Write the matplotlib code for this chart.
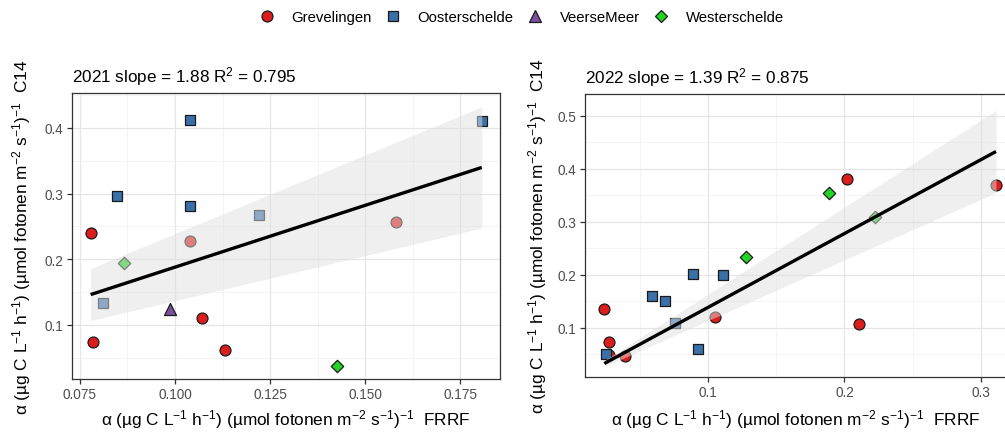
import matplotlib
matplotlib.use("Agg")
import matplotlib.pyplot as plt
from matplotlib.lines import Line2D
from matplotlib.ticker import FixedLocator
import numpy as np

plt.rcParams['font.family'] = ['Liberation Sans', 'DejaVu Sans']
plt.rcParams['mathtext.fontset'] = 'custom'
plt.rcParams['mathtext.rm'] = 'Liberation Sans'
plt.rcParams['mathtext.it'] = 'Liberation Sans:italic'
plt.rcParams['mathtext.bf'] = 'Liberation Sans:bold'

# ---------------- data ----------------
sites = ['Grevelingen', 'Oosterschelde', 'VeerseMeer', 'Westerschelde']
site_colors = ['#DD1C1C', '#3A70A8', '#7E4F9E', '#22D522']
site_markers = ['o', 's', '^', 'D']
site_sizes = [62, 52, 75, 40]

# 2021
site_2021 = ['Grevelingen'] * 6 + ['Oosterschelde'] * 6 + ['VeerseMeer'] + ['Westerschelde'] * 2
frrf_2021 = [0.0778, 0.0785, 0.1039, 0.1072, 0.1132, 0.1582,
             0.0847, 0.1039, 0.1040, 0.1221, 0.0811, 0.1807,
             0.0987,
             0.0866, 0.1427]
c14_2021 = [0.240, 0.074, 0.228, 0.110, 0.062, 0.257,
            0.297, 0.412, 0.281, 0.268, 0.133, 0.411,
            0.125,
            0.194, 0.037]
slope_2021 = 1.88
r2_2021 = 0.795
ribbon_lo_2021 = [0.1066, 0.2475]
ribbon_hi_2021 = [0.1860, 0.4320]

# 2022
site_2022 = ['Grevelingen'] * 8 + ['Oosterschelde'] * 7 + ['Westerschelde'] * 3
frrf_2022 = [0.0237, 0.0269, 0.0271, 0.0391, 0.1049, 0.2108, 0.2020, 0.3112,
             0.0250, 0.0585, 0.0682, 0.0890, 0.1106, 0.0755, 0.0922,
             0.1277, 0.1888, 0.2222]
c14_2022 = [0.136, 0.073, 0.049, 0.048, 0.121, 0.108, 0.380, 0.369,
            0.051, 0.160, 0.150, 0.201, 0.199, 0.110, 0.061,
            0.233, 0.355, 0.309]
slope_2022 = 1.39
r2_2022 = 0.875
ribbon_lo_2022 = [0.0270, 0.3550]
ribbon_hi_2022 = [0.0388, 0.5100]

x_ticks_2021 = [0.075, 0.100, 0.125, 0.150, 0.175]
x_ticklabels_2021 = ['0.075', '0.100', '0.125', '0.150', '0.175']
y_ticks_2021 = [0.1, 0.2, 0.3, 0.4]
x_ticks_2022 = [0.1, 0.2, 0.3]
y_ticks_2022 = [0.1, 0.2, 0.3, 0.4, 0.5]

xlabel = r'α (µg C L$^{-1}$ h$^{-1}$) (µmol fotonen m$^{-2}$ s$^{-1}$)$^{-1}$  FRRF'
ylabel = r'α (µg C L$^{-1}$ h$^{-1}$) (µmol fotonen m$^{-2}$ s$^{-1}$)$^{-1}$  C14'

# ---------------- figure ----------------
W, H = 1005, 435
fig = plt.figure(figsize=(W / 100, H / 100), dpi=100)
fig.patch.set_facecolor('white')


def px_axes(left, top, right, bottom):
    return fig.add_axes([left / W, 1 - bottom / H, (right - left) / W, (bottom - top) / H])


ax1 = px_axes(72, 94, 500, 380)
ax2 = px_axes(585, 95, 1016, 378)


def draw_panel(ax, site, xs, ys, slope, r2, lo, hi, year):
    xs = np.asarray(xs)
    ys = np.asarray(ys)
    site = np.asarray(site)
    for s, col, mk, sz in zip(sites, site_colors, site_markers, site_sizes):
        m = site == s
        if m.any():
            ax.scatter(xs[m], ys[m], s=sz, marker=mk, facecolor=col,
                       edgecolor='#1a1a1a', linewidth=0.9, zorder=3)
    xr = np.array([xs.min(), xs.max()])
    ax.fill_between(xr, lo, hi, color='#e0e0e0', alpha=0.5, linewidth=0, zorder=4)
    ax.plot(xr, slope * xr, color='black', linewidth=2.4, zorder=5,
            solid_capstyle='butt')
    ax.set_title(f'{year} slope = {slope:.2f} R$^2$ = {r2:.3f}', loc='left',
                 fontsize=12.3, color='black', pad=8)
    ax.set_xlabel(xlabel, fontsize=12.4, va='center')
    ax.set_ylabel(ylabel, fontsize=12.4, va='center')
    ax.grid(True, which='major', color='#e6e6e6', linewidth=0.9, zorder=0)
    ax.grid(True, which='minor', color='#f0f0f0', linewidth=0.5, zorder=0)
    ax.set_axisbelow(True)
    for sp in ax.spines.values():
        sp.set_color('#333333')
        sp.set_linewidth(0.9)
    ax.tick_params(which='major', length=3.5, width=0.9, color='#333333',
                   labelcolor='#4d4d4d', labelsize=9.8, pad=2.5)
    ax.tick_params(which='minor', length=0)


draw_panel(ax1, site_2021, frrf_2021, c14_2021, slope_2021, r2_2021,
           ribbon_lo_2021, ribbon_hi_2021, 2021)
draw_panel(ax2, site_2022, frrf_2022, c14_2022, slope_2022, r2_2022,
           ribbon_lo_2022, ribbon_hi_2022, 2022)

ax1.set_xlim(0.0729, 0.1855)
ax1.set_ylim(0.0178, 0.453)
ax1.set_xticks(x_ticks_2021)
ax1.set_xticklabels(x_ticklabels_2021)
ax1.set_yticks(y_ticks_2021)
ax1.xaxis.set_minor_locator(FixedLocator([0.0875, 0.1125, 0.1375, 0.1625]))
ax1.yaxis.set_minor_locator(FixedLocator([0.05, 0.15, 0.25, 0.35, 0.45]))
ax1.xaxis.set_label_coords(0.5, -0.14)
ax1.yaxis.set_label_coords(-0.117, 0.5)

ax2.set_xlim(0.0095, 0.3259)
ax2.set_ylim(0.0075, 0.541)
ax2.set_xticks(x_ticks_2022)
ax2.set_yticks(y_ticks_2022)
ax2.xaxis.set_minor_locator(FixedLocator([0.05, 0.15, 0.25]))
ax2.yaxis.set_minor_locator(FixedLocator([0.05, 0.15, 0.25, 0.35, 0.45]))
ax2.xaxis.set_label_coords(0.49, -0.148)
ax2.yaxis.set_label_coords(-0.109, 0.5)
ax2.spines['right'].set_visible(False)

handles = [Line2D([0], [0], linestyle='none', marker=mk, markersize=np.sqrt(sz),
                  markerfacecolor=col, markeredgecolor='#1a1a1a', markeredgewidth=0.9)
           for col, mk, sz in zip(site_colors, site_markers, site_sizes)]
fig.legend(handles, sites, loc='center', bbox_to_anchor=(0.519, 0.958), ncol=4,
           frameon=False, fontsize=10.7, handlelength=1.0, handletextpad=1.15,
           columnspacing=0.95)

fig.savefig('out.png', dpi=100, facecolor='white')
